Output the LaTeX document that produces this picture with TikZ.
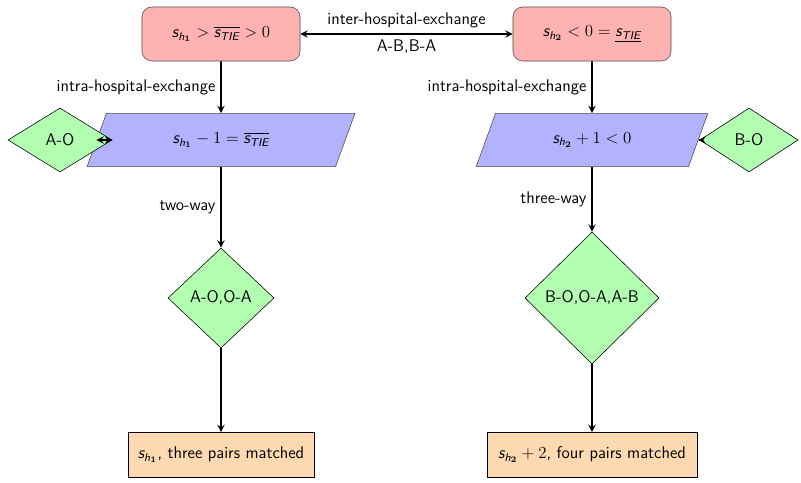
\documentclass[tikz,border=0pt]{standalone}
\usepackage{amsmath}
\usepackage{amssymb}
\usetikzlibrary{shapes.geometric,arrows}
\renewcommand{\familydefault}{\sfdefault}
\newcommand{\sh}[1]{\textit{s}_{\textit{h}_{\mathbf{#1}}}}
\newcommand{\stie}{\textit{s}_{\textit{TIE}}}

\begin{document}
\begin{tikzpicture}[x=0.025cm,y=-0.025cm,>=stealth,
   every node/.style={font=\sffamily\large},
   startbox/.style={draw=black!70,rectangle,rounded corners=7pt,fill=red!30,
      minimum width=3.95cm,minimum height=1.35cm},
   iobox/.style={draw=black!70,trapezium,trapezium left angle=70,
      trapezium right angle=110,fill=blue!30,minimum height=1.33cm},
   choice/.style={draw,diamond,fill=green!30,inner sep=1pt},
   endbox/.style={draw,rectangle,fill=orange!30,minimum height=1.13cm},
   flow/.style={->,line width=1.3pt}]
\useasboundingbox (0,0) rectangle (801,482);
% top row
\node[startbox] (top1) at (221,34) {$\sh{1} > \overline{\stie} > 0$};
\node[startbox] (top2) at (592,34) {$\sh{2} < 0 = \underline{\stie}$};
\draw[<->,line width=1.3pt] (top1) -- (top2)
   node[midway,above] {inter-hospital-exchange}
   node[midway,below] {A-B,B-A};
% second row
\node[iobox,minimum width=6.15cm] (para1) at (221,140) {$\sh{1} - 1 = \overline{\stie}$};
\node[iobox,minimum width=5.15cm] (para2) at (592,140) {$\sh{2} + 1 < 0$};
\node[choice,minimum width=2.6cm,minimum height=1.6cm] (ao) at (60,140) {A-O};
\node[choice,minimum width=2.45cm,minimum height=1.6cm] (bo) at (749,140) {B-O};
\draw[flow] (top1) -- (para1) node[midway,left] {intra-hospital-exchange};
\draw[flow] (top2) -- (para2) node[midway,left] {intra-hospital-exchange};
\draw[<->,line width=1.3pt] (ao.east) -- (para1);
\draw[flow] (bo.west) -- (para2);
% exchanges
\node[choice,minimum width=2.65cm,minimum height=2.5cm] (d1) at (221,298) {A-O,O-A};
\node[choice,minimum width=3.35cm,minimum height=3.3cm] (d2) at (592,298) {B-O,O-A,A-B};
\draw[flow] (para1) -- (d1) node[midway,left] {two-way};
\draw[flow] (para2) -- (d2) node[midway,left] {three-way};
% results
\node[endbox,minimum width=4.65cm] (end1) at (221,455) {$\sh{1}$, three pairs matched};
\node[endbox,minimum width=5.25cm] (end2) at (592,455) {$\sh{2} + 2$, four pairs matched};
\draw[flow] (d1) -- (end1);
\draw[flow] (d2) -- (end2);
\end{tikzpicture}
\end{document}
